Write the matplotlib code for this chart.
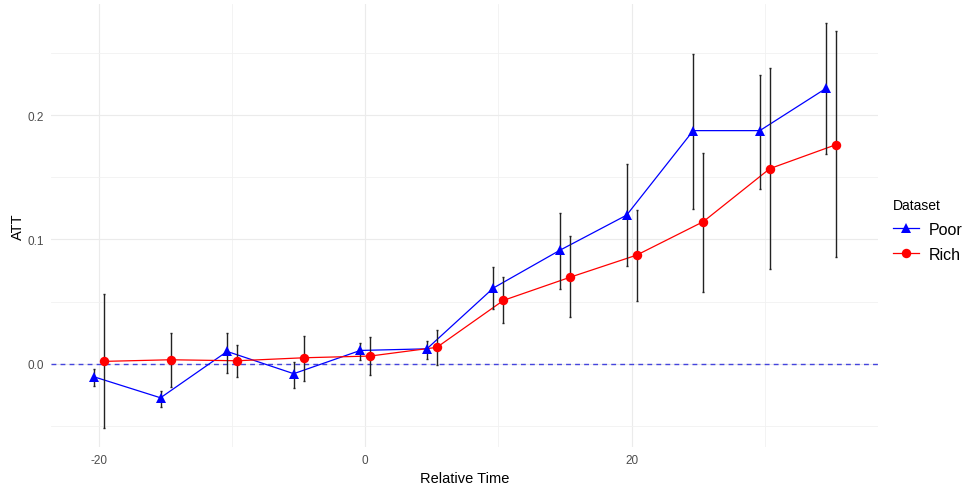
import matplotlib
matplotlib.use("Agg")
import matplotlib.pyplot as plt
from matplotlib.lines import Line2D
import numpy as np

plt.rcParams['font.family'] = ['Liberation Sans', 'DejaVu Sans']
plt.rcParams['axes.unicode_minus'] = False

rel_time = [-20, -15, -10, -5, 0, 5, 10, 15, 20, 25, 30, 35]
poor_att = [-0.0105, -0.0274, 0.0099, -0.008, 0.0107, 0.012, 0.061, 0.0914, 0.1196, 0.1876, 0.1876, 0.2218]
poor_lo = [-0.018, -0.035, -0.0075, -0.0196, 0.0027, 0.004, 0.0438, 0.0605, 0.0785, 0.1245, 0.1406, 0.169]
poor_hi = [-0.004, -0.022, 0.025, 0.0014, 0.0167, 0.018, 0.0777, 0.1215, 0.1605, 0.249, 0.232, 0.274]
rich_att = [0.0019, 0.0032, 0.0024, 0.0048, 0.0062, 0.0132, 0.051, 0.0696, 0.0874, 0.1143, 0.157, 0.1764]
rich_lo = [-0.052, -0.0188, -0.011, -0.014, -0.0094, -0.0013, 0.033, 0.0376, 0.0506, 0.0578, 0.0766, 0.0857]
rich_hi = [0.056, 0.025, 0.0148, 0.0223, 0.0215, 0.0269, 0.070, 0.1027, 0.124, 0.1694, 0.2376, 0.2675]

series = [
    ("Poor", poor_att, poor_lo, poor_hi, "blue", "^", 7.8, -0.375),
    ("Rich", rich_att, rich_lo, rich_hi, "red", "o", 6.8, 0.375),
]

W, H = 963, 489
fig = plt.figure(figsize=(W / 100, H / 100), dpi=100)
left, right, bottom, top = 51, 878, 448, 5
ax = fig.add_axes([left / W, (H - bottom) / H, (right - left) / W, (bottom - top) / H])

ax.set_xlim(-23.6, 38.5)
ax.set_ylim(-0.067, 0.2895)

grid_c = "#EBEBEB"
ax.set_xticks([-20, 0, 20])
ax.set_xticks([-10, 10, 30], minor=True)
ax.set_yticks([0.0, 0.1, 0.2])
ax.set_yticks([-0.05, 0.05, 0.15, 0.25], minor=True)
ax.set_yticklabels(["0.0", "0.1", "0.2"])
ax.grid(True, which="major", color=grid_c, linewidth=0.85)
ax.grid(True, which="minor", color="#F1F1F1", linewidth=0.6)
ax.set_axisbelow(True)
for s in ax.spines.values():
    s.set_visible(False)
ax.tick_params(which="both", length=0, colors="#4D4D4D", labelsize=8.5, pad=5)

ax.axhline(0, color="#4444dd", linestyle=(0, (3.5, 3)), linewidth=1.0, zorder=1)

handles = []
for name, att, lo, hi, col, mk, ms, off in series:
    x = np.array(rel_time) + off
    att = np.array(att)
    ax.plot(x, att, color=col, linewidth=0.9, zorder=2)
    ax.errorbar(x, att, yerr=[att - np.array(lo), np.array(hi) - att], fmt="none",
                ecolor="#222222", elinewidth=1.0, capsize=0.8, capthick=1.0, zorder=3)
    ax.plot(x, att, linestyle="none", marker=mk, markersize=ms, color=col,
            markeredgewidth=0, zorder=4)
    handles.append(Line2D([], [], color=col, linewidth=0.9, marker=mk, markersize=ms,
                          markeredgewidth=0))

ax.set_xlabel("Relative Time", fontsize=10.5, labelpad=4)
ax.set_ylabel("ATT", fontsize=10.5, labelpad=2)

leg = ax.legend(handles, ["Poor", "Rich"], title="Dataset", loc="center left",
                bbox_to_anchor=(1.005, 0.49), frameon=False, fontsize=11.5,
                title_fontsize=10, handlelength=1.6, handletextpad=0.6,
                labelspacing=0.6, borderaxespad=0.3)
leg._legend_box.align = "left"

fig.savefig("out.png", dpi=100)
